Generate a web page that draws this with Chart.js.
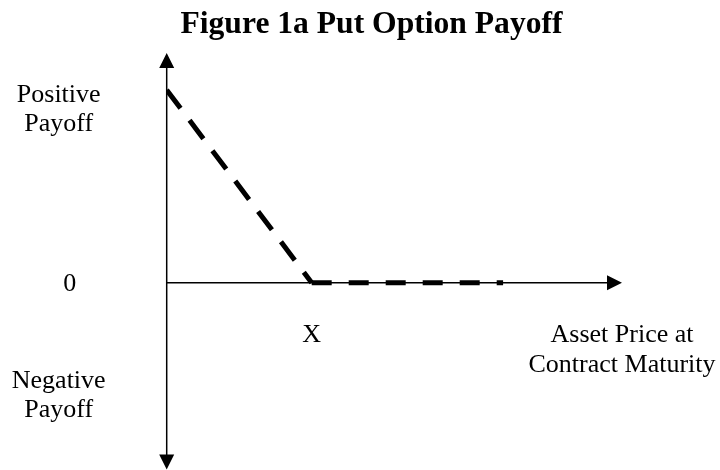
<!DOCTYPE html>
<html>
<head>
<meta charset="utf-8">
<script src="https://cdn.jsdelivr.net/npm/chart.js@4"></script>
<style>
  html, body { margin: 0; padding: 0; background: #ffffff; }
  canvas { display: block; }
</style>
</head>
<body>
<canvas id="chart" width="720" height="470"></canvas>
<script>
// ---- data ----
const titleText = "Figure 1a Put Option Payoff";
const assetPrice = [0, 50, 116];      // asset price at contract maturity (strike X = 50)
const putPayoff = [50, 0, 0];         // put option payoff
const xAxisRange = [0, 157];
const yAxisRange = [-48.5, 59.6];
const xTickValues = [50, 157];
const xTickLabels = ["X", ["Asset Price at", "Contract Maturity"]];
const yTickValues = [45.5, 0, -28.8];
const yTickLabels = [["Positive", "Payoff"], "0", ["Negative", "Payoff"]];

const SERIF = '"Liberation Serif", "Times New Roman", Times, serif';

function toPoints(xs, ys) { return xs.map((x, i) => ({ x: x, y: ys[i] })); }

const diagonal = toPoints(assetPrice.slice(0, 2), putPayoff.slice(0, 2));
const flat = toPoints(assetPrice.slice(1), putPayoff.slice(1));

const axesAndLabels = {
  id: 'axesAndLabels',
  beforeDatasetsDraw(chart) {
    const ctx = chart.ctx;
    const xs = chart.scales.x, ys = chart.scales.y;
    const x0 = xs.getPixelForValue(0);
    const y0 = ys.getPixelForValue(0);
    const xEnd = xs.getPixelForValue(xAxisRange[1]);
    const yTop = ys.getPixelForValue(yAxisRange[1]);
    const yBot = ys.getPixelForValue(yAxisRange[0]);
    const head = 15, half = 7.5;
    ctx.save();
    ctx.strokeStyle = '#000';
    ctx.fillStyle = '#000';
    ctx.lineWidth = 1.5;
    ctx.beginPath();
    ctx.moveTo(x0, yTop + head - 1);
    ctx.lineTo(x0, yBot - head + 1);
    ctx.moveTo(x0, y0);
    ctx.lineTo(xEnd - head + 1, y0);
    ctx.stroke();
    // arrow heads
    ctx.beginPath();
    ctx.moveTo(x0, yTop); ctx.lineTo(x0 - half, yTop + head); ctx.lineTo(x0 + half, yTop + head); ctx.closePath();
    ctx.moveTo(x0, yBot); ctx.lineTo(x0 - half, yBot - head); ctx.lineTo(x0 + half, yBot - head); ctx.closePath();
    ctx.moveTo(xEnd, y0); ctx.lineTo(xEnd - head, y0 - half); ctx.lineTo(xEnd - head, y0 + half); ctx.closePath();
    ctx.fill();
    ctx.restore();
  },
  afterDraw(chart) {
    const ctx = chart.ctx;
    const xs = chart.scales.x, ys = chart.scales.y;
    const x0 = xs.getPixelForValue(0);
    const y0 = ys.getPixelForValue(0);
    ctx.save();
    ctx.fillStyle = '#000';
    ctx.textAlign = 'center';
    ctx.textBaseline = 'alphabetic';
    // title
    ctx.font = 'bold 31.6px ' + SERIF;
    ctx.fillText(titleText, 371.5, 33);
    // y labels
    ctx.font = '26px ' + SERIF;
    const yLh = 29;
    yTickValues.forEach((v, i) => {
      const lines = [].concat(yTickLabels[i]);
      const py = ys.getPixelForValue(v);
      const cx = x0 - (lines.length > 1 ? 108 : 97);
      lines.forEach((t, j) => {
        ctx.fillText(t, cx, py + (j - (lines.length - 1) / 2) * yLh + 8.8);
      });
    });
    // x labels
    const xLh = 30;
    xTickValues.forEach((v, i) => {
      const lines = [].concat(xTickLabels[i]);
      const px = xs.getPixelForValue(v);
      lines.forEach((t, j) => {
        ctx.fillText(t, px, y0 + 59 + j * xLh);
      });
    });
    ctx.restore();
  }
};

new Chart(document.getElementById('chart'), {
  type: 'scatter',
  data: {
    datasets: [
      {
        data: diagonal,
        showLine: true,
        borderColor: '#000',
        borderWidth: 5,
        borderDash: [23, 15],
        borderCapStyle: 'butt',
        pointRadius: 0,
        tension: 0
      },
      {
        data: flat,
        showLine: true,
        borderColor: '#000',
        borderWidth: 5,
        borderDash: [20, 17],
        borderCapStyle: 'butt',
        pointRadius: 0,
        tension: 0
      }
    ]
  },
  options: {
    responsive: false,
    animation: false,
    layout: { padding: { left: 166.7, right: 98, top: 53, bottom: 0.5 } },
    scales: {
      x: { type: 'linear', display: false, min: xAxisRange[0], max: xAxisRange[1] },
      y: { type: 'linear', display: false, min: yAxisRange[0], max: yAxisRange[1] }
    },
    plugins: {
      legend: { display: false },
      tooltip: { enabled: false },
      title: { display: false }
    },
    events: []
  },
  plugins: [axesAndLabels]
});
</script>
</body>
</html>
